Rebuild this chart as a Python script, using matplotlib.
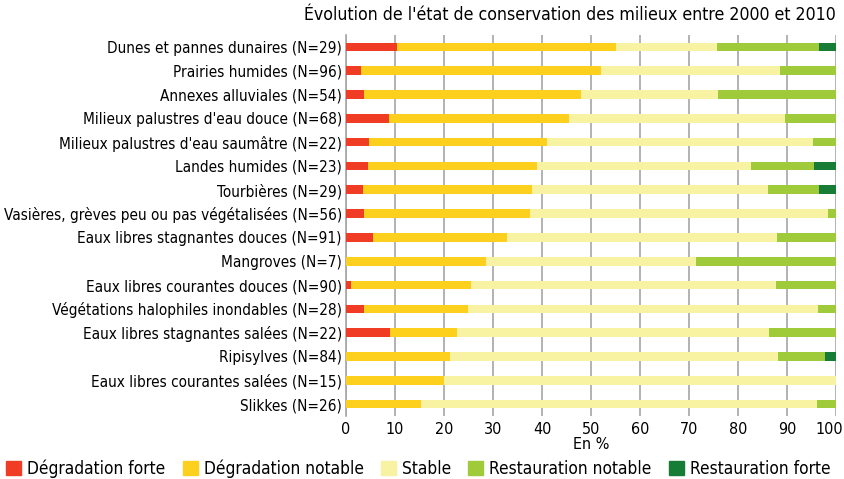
import numpy as np
import matplotlib
matplotlib.use("Agg")
import matplotlib.pyplot as plt
import matplotlib.transforms as mtransforms
from matplotlib.patches import Patch

plt.rcParams['font.family'] = ['DejaVu Sans']
plt.rcParams['font.stretch'] = 'condensed'

# categories (top to bottom)
milieux = ["Dunes et pannes dunaires (N=29)", "Prairies humides (N=96)",
           "Annexes alluviales (N=54)", "Milieux palustres d'eau douce (N=68)",
           "Milieux palustres d'eau saumâtre (N=22)", "Landes humides (N=23)",
           "Tourbières (N=29)", "Vasières, grèves peu ou pas végétalisées (N=56)",
           "Eaux libres stagnantes douces (N=91)", "Mangroves (N=7)",
           "Eaux libres courantes douces (N=90)", "Végétations halophiles inondables (N=28)",
           "Eaux libres stagnantes salées (N=22)", "Ripisylves (N=84)",
           "Eaux libres courantes salées (N=15)", "Slikkes (N=26)"]

# shares in %
degr_forte   = [10.4, 3.1, 3.7, 8.8, 4.6, 4.4, 3.5, 3.7, 5.5, 0.0, 1.1, 3.7, 9.0, 0.0, 0.0, 0.0]
degr_notable = [44.8, 48.9, 44.3, 36.7, 36.4, 34.6, 34.4, 33.8, 27.3, 28.6, 24.4, 21.2, 13.7, 21.3, 20.0, 15.3]
stable       = [20.5, 36.5, 28.0, 44.1, 54.4, 43.7, 48.3, 60.8, 55.1, 42.8, 62.2, 71.4, 63.7, 66.8, 80.0, 80.9]
resto_notable = [20.9, 11.5, 24.0, 10.4, 4.6, 12.9, 10.4, 1.7, 12.1, 28.6, 12.3, 3.7, 13.6, 9.7, 0.0, 3.8]
resto_forte  = [3.4, 0.0, 0.0, 0.0, 0.0, 4.4, 3.4, 0.0, 0.0, 0.0, 0.0, 0.0, 0.0, 2.2, 0.0, 0.0]

series = [degr_forte, degr_notable, stable, resto_notable, resto_forte]
noms = ["Dégradation forte", "Dégradation notable", "Stable",
        "Restauration notable", "Restauration forte"]
couleurs = ["#f03c24", "#fdd01e", "#f8f3a2", "#9fcb3a", "#177c35"]

fig = plt.figure(figsize=(8.44, 4.79), dpi=100)
ax = fig.add_axes([346/844, 1-416/479, 490/844, 381/479])

y = np.arange(len(milieux))
left = np.zeros(len(milieux))
for vals, c in zip(series, couleurs):
    vals = np.array(vals)
    ax.barh(y, vals, left=left, height=0.36, color=c, zorder=3)
    left += vals

ax.set_xlim(0, 100)
ax.set_ylim(len(milieux) - 0.5, -0.5)
ax.set_xticks(np.arange(0, 101, 10))
ax.set_yticks(y)
ax.set_yticklabels(milieux, fontsize=11)
ax.tick_params(axis='x', labelsize=11.5, length=0, pad=4)
ax.tick_params(axis='y', length=0, pad=3)
ax.xaxis.grid(True, color="#a6a6a6", linewidth=1.2, zorder=0)
for s in ["top", "right", "bottom"]:
    ax.spines[s].set_visible(False)
ax.spines["left"].set_color("#a6a6a6")
ax.spines["left"].set_linewidth(1.2)
ax.set_xlabel("En %", fontsize=11.5, labelpad=0)

# keep "100" inside the figure
last = ax.get_xticklabels()[-1]
last.set_transform(last.get_transform() + mtransforms.ScaledTranslation(-7/100, 0, fig.dpi_scale_trans))

fig.text(836/844, 1-15/479, "Évolution de l'état de conservation des milieux entre 2000 et 2010",
         ha="right", va="center", fontsize=12.7)

handles = [Patch(color=c) for c in couleurs]
fig.legend(handles, noms, loc="lower left", bbox_to_anchor=(-0.003, -0.016), ncol=5,
           frameon=False, fontsize=12.4, handlelength=0.87, handleheight=0.87,
           handletextpad=0.35, columnspacing=1.0, borderaxespad=0.1)

fig.savefig("out.png", dpi=100)
